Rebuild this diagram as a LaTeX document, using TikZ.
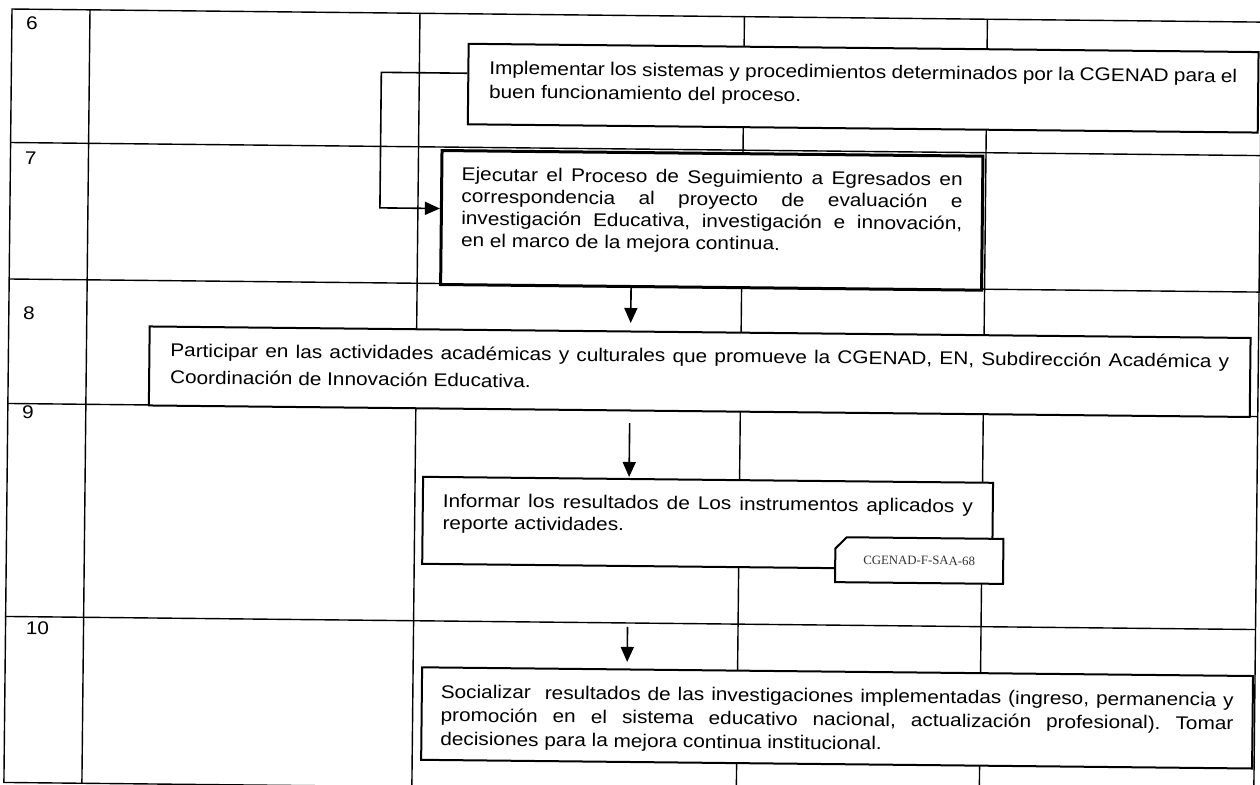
\documentclass[tikz,border=0pt]{standalone}
\usepackage{fontspec}
\setmainfont{Liberation Sans}[FakeStretch=1.13]
\newfontfamily\formfont{Liberation Serif}
\usetikzlibrary{arrows.meta,shapes.misc}
\hyphenpenalty=10000
\exhyphenpenalty=10000
\frenchspacing
\newcommand{\boxtext}[3]{\parbox[t][#2][t]{#1}{\strut#3}}

\begin{document}
\begin{tikzpicture}[x=0.5pt, y=-0.5pt,
    grid/.style={line width=0.7pt},
    stepnum/.style={anchor=base west, inner sep=0pt, font=\fontsize{9.2}{11}\selectfont},
    procbox/.style={draw, fill=white, line width=1pt, anchor=north west, inner ysep=7.3pt,
        font=\fontsize{9.2}{11}\selectfont},
    widebox/.style={procbox, inner ysep=7pt, font=\fontsize{9.2}{11.8}\selectfont},
    formtag/.style={draw, fill=white, line width=1pt, chamfered rectangle,
        chamfered rectangle corners=north west, chamfered rectangle xsep=11pt,
        chamfered rectangle ysep=3.5pt, minimum width=84pt, minimum height=22.5pt, inner sep=0pt,
        font=\formfont\fontsize{6.4}{7}\selectfont, text=black!80},
    flow/.style={line width=0.8pt, -{Triangle[length=7.5pt,width=6.5pt]}}]

    \useasboundingbox (0,0) rectangle (1260,785);
    \begin{scope}[rotate around={-0.6:(630,392)}, transform shape]

        \draw[grid] (8,15.5) rectangle (1258,789);
        \draw[grid] (8,149) -- (1258,149) (8,285.5) -- (1258,285.5)
            (8,410) -- (1258,410) (8,623) -- (1258,623);
        \draw[grid] (86,15.5) -- (86,789) (416,15.5) -- (416,789)
            (740.5,15.5) -- (740.5,789) (983.5,15.5) -- (983.5,789);

        \node (n6) [stepnum] at (22,36) {6};
        \node (n7) [stepnum] at (22,171) {7};
        \node (n8) [stepnum] at (22,326) {8};
        \node (n9) [stepnum] at (22,425) {9};
        \node (n10) [stepnum] at (28,641) {10};

        \node (implement) [widebox, inner xsep=10.5pt] at (464,44.5)
        {\boxtext{374pt}{26.25pt}{Implementar los sistemas y procedimientos determinados por la CGENAD para el\linebreak
        buen funcionamiento del proceso.}};

        \node (execute) [procbox, line width=1.5pt, inner xsep=10pt] at (438,151)
        {\boxtext{250.5pt}{52.4pt}{Ejecutar el Proceso de Seguimiento a Egresados en\linebreak
        correspondencia al proyecto de evaluación e\linebreak
        investigación Educativa, investigación e innovación,\linebreak
        en el marco de la mejora continua.}};

        \node (participate) [procbox, inner xsep=10.5pt, inner ysep=5.6pt,
            font=\fontsize{9.2}{13.5}\selectfont] at (148,330.5)
        {\boxtext{529.5pt}{28.3pt}{Participar en las actividades académicas y culturales que promueve la CGENAD, EN, Subdirección Académica y\linebreak
        Coordinación de Innovación Educativa.}};

        \node (report) [procbox, inner xsep=10pt] at (423,478)
        {\boxtext{265pt}{28.9pt}{Informar los resultados de Los instrumentos aplicados y\linebreak
        reporte actividades.}};
        \node (form) [formtag] at (921,557.5) {CGENAD-F-SAA-68};

        \node (socialize) [widebox, inner xsep=9.5pt] at (424,668.5)
        {\boxtext{396.5pt}{32.25pt}{Socializar~ resultados de las investigaciones implementadas (ingreso, permanencia y\linebreak
        promoción en el sistema educativo nacional, actualización profesional). Tomar\linebreak
        decisiones para la mejora continua institucional.}};

        \coordinate (spine) at (630,392);
        \coordinate (row10) at (630,627);

        \draw[flow] ([yshift=5.4pt]implement.west) -- ++(-86,0) |- ([yshift=4.5pt]execute.west);
        \draw[flow, shorten >=3.75pt] (execute.south -| spine) -- (participate.north -| spine);
        \draw[flow, shorten <=5.8pt, shorten >=0.5pt] (participate.south -| spine) -- (report.north -| spine);
        \draw[flow, shorten >=3.25pt] (row10) -- (socialize.north -| row10);

    \end{scope}
\end{tikzpicture}
\end{document}
